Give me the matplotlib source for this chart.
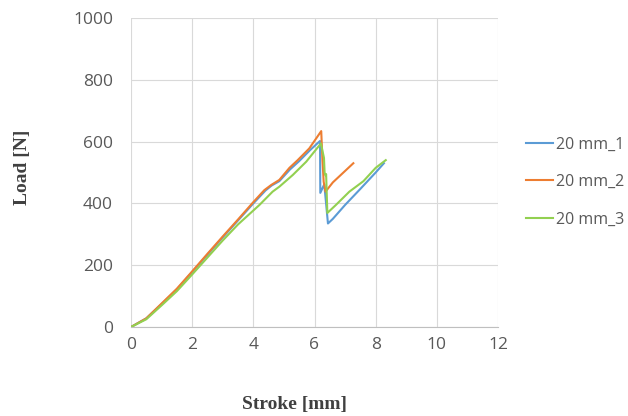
import matplotlib
matplotlib.use("Agg")
import matplotlib.pyplot as plt

# ---- data ----
x1 = [0, 0.5, 1.0, 1.5, 2.0, 2.5, 3.0, 3.5, 4.0, 4.4, 4.6, 4.85, 5.2, 5.5, 5.85, 6.18,
      6.19, 6.32, 6.44, 6.6, 7.0, 7.5, 8.0, 8.27]
y1 = [0, 28, 74, 122, 178, 234, 290, 345, 400, 442, 458, 472, 510, 537, 572, 602,
      434, 462, 335, 350, 395, 447, 500, 530]

x2 = [0, 0.5, 1.0, 1.5, 2.0, 2.5, 3.0, 3.5, 3.98, 4.36, 4.59, 4.85, 5.18, 5.45, 5.83, 6.22,
      6.26, 6.3, 6.36, 6.6, 7.0, 7.27]
y2 = [0, 28, 76, 124, 180, 237, 293, 348, 402, 443, 460, 476, 515, 540, 578, 634,
      540, 470, 438, 468, 505, 530]

x3 = [0, 0.5, 1.0, 1.5, 2.0, 2.5, 3.0, 3.5, 4.2, 4.63, 4.85, 5.29, 5.73, 6.21,
      6.31, 6.33, 6.36, 6.38, 6.42, 6.7, 7.14, 7.6, 8.0, 8.33]
y3 = [0, 25, 70, 116, 170, 225, 280, 332, 395, 438, 454, 492, 535, 594,
      547, 500, 490, 495, 369, 395, 438, 472, 515, 540]

labels = ["20 mm_1", "20 mm_2", "20 mm_3"]
colors = ["#5B9BD5", "#ED7D31", "#92D050"]
xticks = [0, 2, 4, 6, 8, 10, 12]
yticks = [0, 200, 400, 600, 800, 1000]

fig = plt.figure(figsize=(6.28, 4.16), dpi=100)
ax = fig.add_axes([131/628, 1-327/416, (498-131)/628, (327-18)/416])

for xs, ys, c, lab in zip([x1, x2, x3], [y1, y2, y3], colors, labels):
    ax.plot(xs, ys, color=c, lw=1.5, label=lab)

ax.set_xlim(0, 12)
ax.set_ylim(0, 1000)
ax.set_xticks(xticks)
ax.set_yticks(yticks)
ax.grid(True, color="#d9d9d9", lw=0.8)
ax.set_axisbelow(True)
for s in ["top", "right", "left"]:
    ax.spines[s].set_visible(False)
ax.spines["bottom"].set_color("#bfbfbf")
ax.tick_params(length=0, colors="#595959", labelsize=12.5)
ax.tick_params(axis="y", pad=13)
ax.tick_params(axis="x", pad=7)
for t in ax.get_xticklabels() + ax.get_yticklabels():
    t.set_fontfamily("Open Sans")

fig.text(295/628, 1-405/416, "Stroke [mm]", ha="center", va="center",
         fontfamily="Liberation Serif", fontweight="bold", fontsize=14, color="#404040")
fig.text(22/628, 1-167/416, "Load [N]", ha="center", va="center", rotation=90,
         fontfamily="Liberation Serif", fontweight="bold", fontsize=14, color="#404040")

leg = fig.legend(loc="center left", bbox_to_anchor=(526/628, 1-182/416), frameon=False,
                 borderpad=0, borderaxespad=0, handlelength=1.7, handletextpad=0.15,
                 labelspacing=1.35, prop={"family": "Open Sans", "size": 11.5})
for t in leg.get_texts():
    t.set_color("#595959")

fig.savefig("out.png", dpi=100)
